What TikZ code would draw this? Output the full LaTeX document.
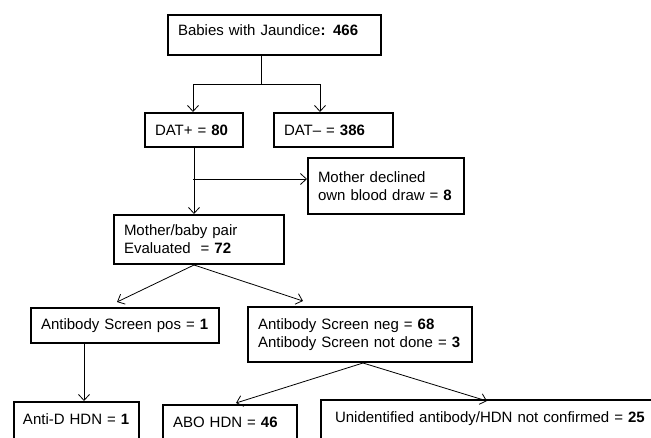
\documentclass[tikz,border=0pt]{standalone}
\usepackage{fontspec}
\setmainfont{Liberation Sans}
\usepackage{tikz}
\usetikzlibrary{arrows.meta, positioning, calc}

\begin{document}
\begin{tikzpicture}[x=1pt, y=-1pt,
  box/.style={draw, line width=2pt, anchor=north west, align=left,
              inner xsep=10pt, inner ysep=0pt, font=\fontsize{15}{18}\selectfont},
  cutbox/.style={box, text height=11pt, text depth=40pt, inner ysep=11pt},
  arrow/.style={-{Straight Barb[length=6pt,width=11pt]}, line width=0.8pt},
  link/.style={line width=0.8pt}]

  \useasboundingbox (0,0) rectangle (651,437);
  \clip (0,0) rectangle (651,437);

  % boxes
  \node[box, text width=193pt, minimum height=40pt, text height=11pt, text depth=11pt]
        (babies) at (167,14) {Babies with Jaundice\textbf{: 466}};
  \node[box, text width=78pt, minimum height=34pt]  (datp) at (144,112) {DAT+ = \textbf{80}};
  \node[box, text width=99pt, minimum height=34pt]  (datm) at (273,112) {DAT– = \textbf{386}};
  \node[box, text width=136pt, minimum height=56pt] (declined) at (307,157)
        {Mother declined\\own blood draw = \textbf{8}};
  \node[box, text width=150pt, minimum height=49pt] (pair) at (113,214)
        {Mother/baby pair\\Evaluated\ \ = \textbf{72}};
  \node[box, text width=168pt, minimum height=35pt] (abpos) at (30,307)
        {Antibody Screen pos = \textbf{1}};
  \node[box, text width=204pt, minimum height=55pt] (abneg) at (247,306)
        {Antibody Screen neg = \textbf{68}\\Antibody Screen not done = \textbf{3}};
  \node[cutbox, text width=107pt, inner xsep=9pt] (antid) at (13,401) {Anti-D HDN = \textbf{1}};
  \node[cutbox, text width=114pt] (abo) at (162,404) {ABO HDN = \textbf{46}};
  \node[cutbox, text width=360pt, inner xsep=14pt] (unid) at (320,399)
        {Unidentified antibody/HDN not confirmed = \textbf{25}};

  % split below the first box
  \coordinate (fork)  at (261,84);
  \coordinate (forkL) at (193,84);
  \coordinate (forkR) at (320,84);
  \coordinate (branch) at (193,179);

  \draw[link] (babies.south -| fork) -- (fork);
  \draw[link] (forkL) -- (forkR);
  \draw[arrow] (forkL) -- (forkL |- datp.north);
  \draw[arrow] (forkR) -- (forkR |- datm.north);

  \draw[arrow] (datp.south) -- (datp.south |- pair.north);
  \draw[arrow] (branch) -- (branch -| declined.west);

  \draw[arrow] ([xshift=-5pt]pair.south) -- ([xshift=-8pt,yshift=5pt]abpos.north);
  \draw[arrow] ([xshift=-5pt]pair.south) -- ([xshift=-57pt,yshift=5pt]abneg.north);

  \draw[arrow] ([xshift=-41pt]abpos.south) -- ([xshift=-41pt]abpos.south |- antid.north);

  \draw[arrow] ([xshift=3pt]abneg.south) -- ([xshift=6pt,yshift=1pt]abo.north);
  \draw[arrow] ([xshift=3pt]abneg.south) -- (487,401);
\end{tikzpicture}
\end{document}
